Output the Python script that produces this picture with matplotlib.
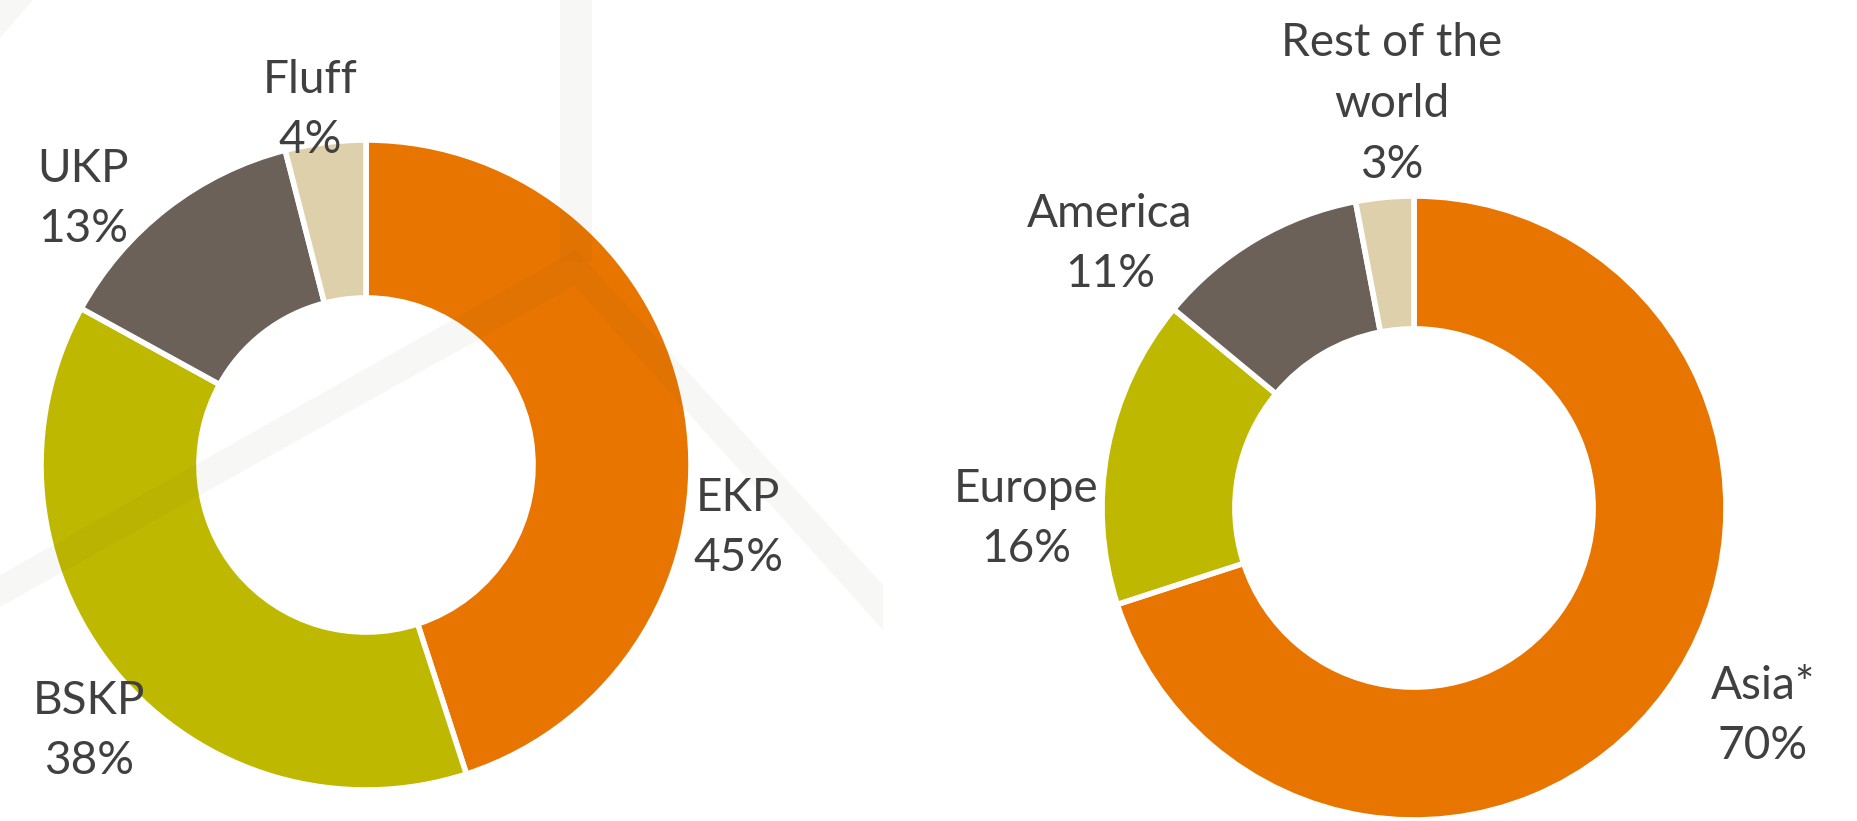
import matplotlib.pyplot as plt
from matplotlib.patches import Polygon

# data
pulp_types = ['EKP', 'BSKP', 'UKP', 'Fluff']
pulp_share = [45, 38, 13, 4]
regions = ['Asia*', 'Europe', 'America', 'Rest of the\nworld']
region_share = [70, 16, 11, 3]

colors = ['#E87500', '#BFB800', '#6B6158', '#DDD0AA']
text_color = '#404040'

W, H = 1858, 821
fig = plt.figure(figsize=(W / 100, H / 100), dpi=100)
ax = fig.add_axes([0, 0, 1, 1])


def donut(values, labels, cx, cy, r, hole, label_pos):
    ax.pie(values, center=(cx, H - cy), radius=r, startangle=90, counterclock=False,
           colors=colors, frame=True,
           wedgeprops=dict(width=r * (1 - hole), edgecolor='white', linewidth=4))
    for lab, v, (lx, ly) in zip(labels, values, label_pos):
        ax.text(lx, H - ly, f'{lab}\n{v}%', ha='center', va='center', fontsize=33,
                color=text_color, linespacing=1.55, family='Lato')


donut(pulp_share, pulp_types, 366, 465, 325, 0.514,
      [(738, 528), (89, 731), (83, 199), (310, 110)])
donut(region_share, regions, 1414, 508, 312, 0.574,
      [(1763, 716), (1026, 519), (1110, 244), (1392, 104)])

# faint background watermark, drawn semi-transparent over everything
band = dict(color='#5a5030', alpha=0.045, lw=0, zorder=5)
ax.add_patch(Polygon([(560, H), (592, H), (592, H - 262), (560, H - 262)], **band))
ax.add_patch(Polygon([(0, H - 575), (0, H - 607), (576, H - 285), (576, H - 250)], **band))
ax.add_patch(Polygon([(576, H - 250), (576, H - 288), (883, H - 630), (883, H - 585)], **band))
ax.add_patch(Polygon([(0, H), (33, H), (0, H - 38)], **band))

ax.set_xlim(0, W)
ax.set_ylim(0, H)
ax.set_aspect('equal')
ax.axis('off')
fig.savefig('out.png', dpi=100, facecolor='white')
